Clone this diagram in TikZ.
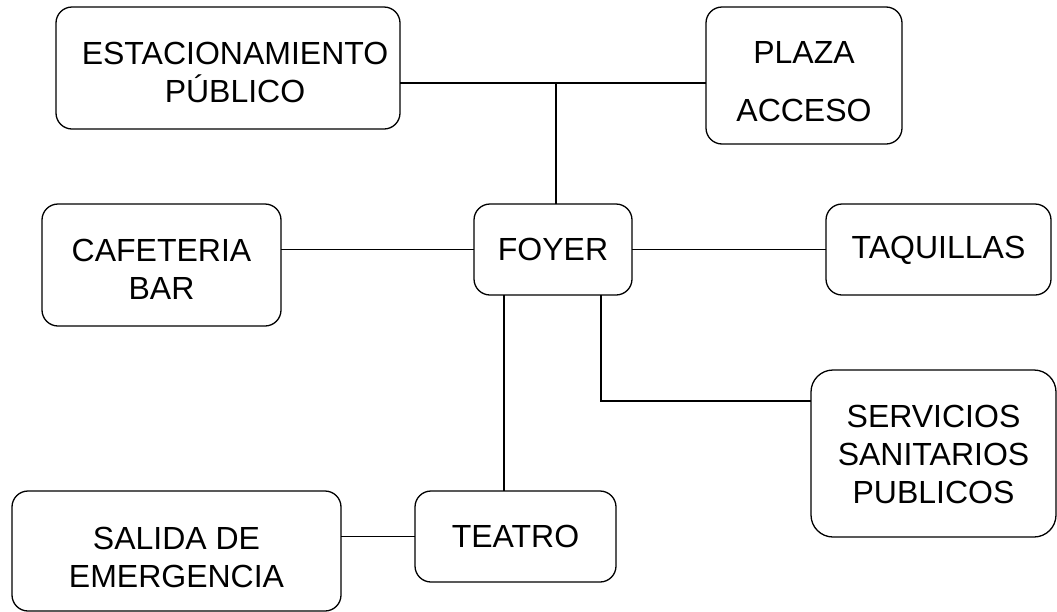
\documentclass[tikz,border=0pt]{standalone}
\usepackage{fontspec}
\setmainfont{Liberation Sans}
\begin{document}
\begin{tikzpicture}[x=1pt,y=-1pt,
  box/.style={draw=black,line width=1.3pt,rounded corners=16pt,inner sep=0pt,outer sep=0pt},
  lbl/.style={inner sep=0pt,align=center,font=\fontsize{32}{38}\selectfont},
  conn/.style={draw=black,line width=1.3pt}]
\useasboundingbox[fill=white] (0,0) rectangle (1057,611);
\node[box,minimum width=344pt,minimum height=122pt,
  label={[lbl,xshift=7pt,yshift=-4pt]center:ESTACIONAMIENTO\\PÚBLICO}] (estac) at (228,68) {};
\node[box,minimum width=196pt,minimum height=137pt,
  label={[lbl,yshift=-6.5pt]center:PLAZA\\[20pt]ACCESO}] (plaza) at (804,75.5) {};
\node[box,minimum width=239pt,minimum height=122pt,
  label={[lbl,yshift=-4.5pt]center:CAFETERIA\\BAR}] (cafe) at (161.5,265) {};
\node[box,minimum width=158pt,minimum height=91pt,
  label={[lbl]center:FOYER}] (foyer) at (553,249.5) {};
\node[box,minimum width=225pt,minimum height=91pt,
  label={[lbl,yshift=-1pt]center:TAQUILLAS}] (taq) at (938.5,249.5) {};
\node[box,rounded corners=22pt,minimum width=245pt,minimum height=167pt,
  label={[lbl,yshift=-0.5pt]center:SERVICIOS\\SANITARIOS\\PUBLICOS}] (serv) at (933.5,453.5) {};
\node[box,minimum width=329pt,minimum height=120pt,
  label={[lbl,yshift=-6pt]center:SALIDA DE\\EMERGENCIA}] (salida) at (176.5,551) {};
\node[box,minimum width=201pt,minimum height=91pt,
  label={[lbl]center:TEATRO}] (teatro) at (515.5,536.5) {};
\coordinate (j1) at (556,83);
\coordinate (c1) at (504,400);
\coordinate (c2) at (601,401);
\draw[conn] (j1 -| estac.east) -- (j1 -| plaza.west);
\draw[conn] (j1) -- (foyer.north -| j1);
\draw[conn] (foyer.west -| cafe.east) -- (foyer.west);
\draw[conn] (foyer.east) -- (taq.west);
\draw[conn] (foyer.south -| c1) -- (teatro.north -| c1);
\draw[conn] (foyer.south -| c2) -- (c2) -- (c2 -| serv.west);
\draw[conn] (teatro.west -| salida.east) -- (teatro.west);
\end{tikzpicture}
\end{document}
